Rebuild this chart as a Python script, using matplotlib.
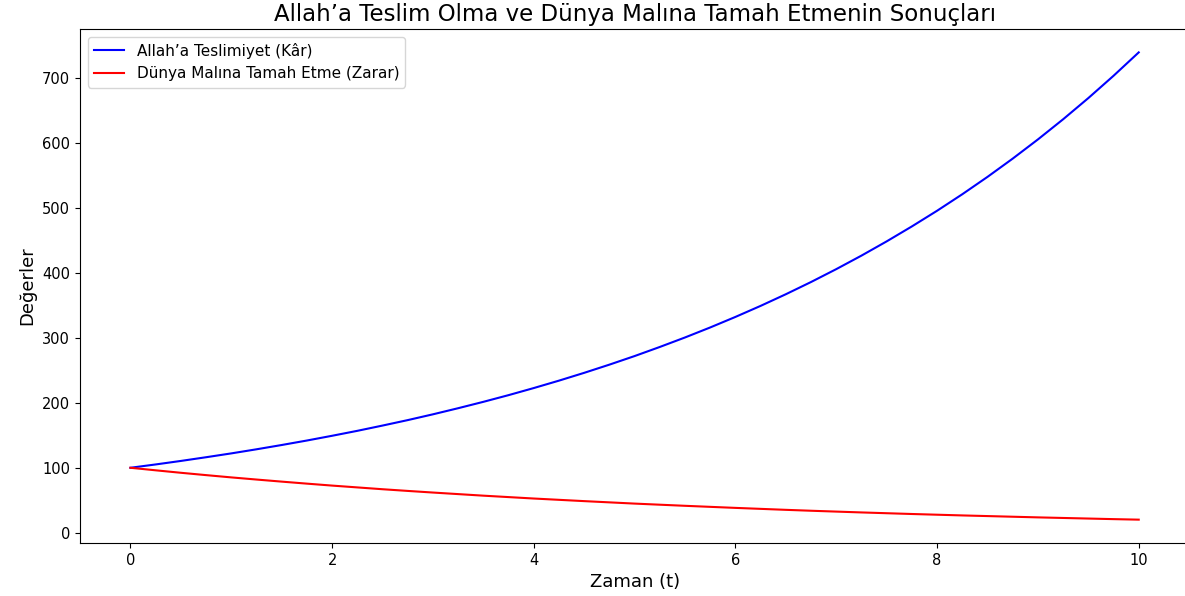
"""
Allah'a teslimiyet / dunya malina tamah -- recreated line chart
"""

import matplotlib as mpl
mpl.use('Agg')
import matplotlib.pyplot as plt

# values at quarter-step times
t = [0, 0.25, 0.5, 0.75, 1, 1.25, 1.5, 1.75, 2, 2.25, 2.5, 2.75, 3, 3.25,
     3.5, 3.75, 4, 4.25, 4.5, 4.75, 5, 5.25, 5.5, 5.75, 6, 6.25, 6.5, 6.75,
     7, 7.25, 7.5, 7.75, 8, 8.25, 8.5, 8.75, 9, 9.25, 9.5, 9.75, 10]
kar = [100, 105.1, 110.5, 116.2, 122.1, 128.4, 135.0, 141.9, 149.2, 156.8,
       164.9, 173.3, 182.2, 191.6, 201.4, 211.7, 222.6, 234.0, 246.0, 258.6,
       271.8, 285.8, 300.4, 315.8, 332.0, 349.0, 366.9, 385.7, 405.5, 426.3,
       448.2, 471.2, 495.3, 520.7, 547.4, 575.5, 605.0, 636.0, 668.6, 702.9,
       738.9]
zarar = [100, 96.1, 92.3, 88.7, 85.2, 81.9, 78.7, 75.6, 72.6, 69.8, 67.0,
         64.4, 61.9, 59.5, 57.1, 54.9, 52.7, 50.7, 48.7, 46.8, 44.9, 43.2,
         41.5, 39.9, 38.3, 36.8, 35.3, 33.9, 32.6, 31.3, 30.1, 28.9, 27.8,
         26.7, 25.7, 24.7, 23.7, 22.8, 21.9, 21.0, 20.2]

lbl_kar = 'Allah\u2019a Teslimiyet (Kâr)'
lbl_zarar = 'Dünya Malına Tamah Etme (Zarar)'
title = 'Allah\u2019a Teslim Olma ve Dünya Malına Tamah Etmenin Sonuçları'

fig = plt.figure(figsize=(11.85, 5.96), dpi=100)
ax = fig.add_axes([0.0675, 0.0889, 0.936, 0.8624])

ax.plot(t, kar, color='blue', label=lbl_kar)
ax.plot(t, zarar, color='red', label=lbl_zarar)

ax.set_title(title, fontsize=16.5)
ax.set_xlabel('Zaman (t)', fontsize=13)
ax.set_ylabel('Değerler', fontsize=13)
ax.tick_params(labelsize=10.5)
ax.legend(loc='upper left', fontsize=11)

plt.savefig('out.png', dpi=100)
plt.close()
